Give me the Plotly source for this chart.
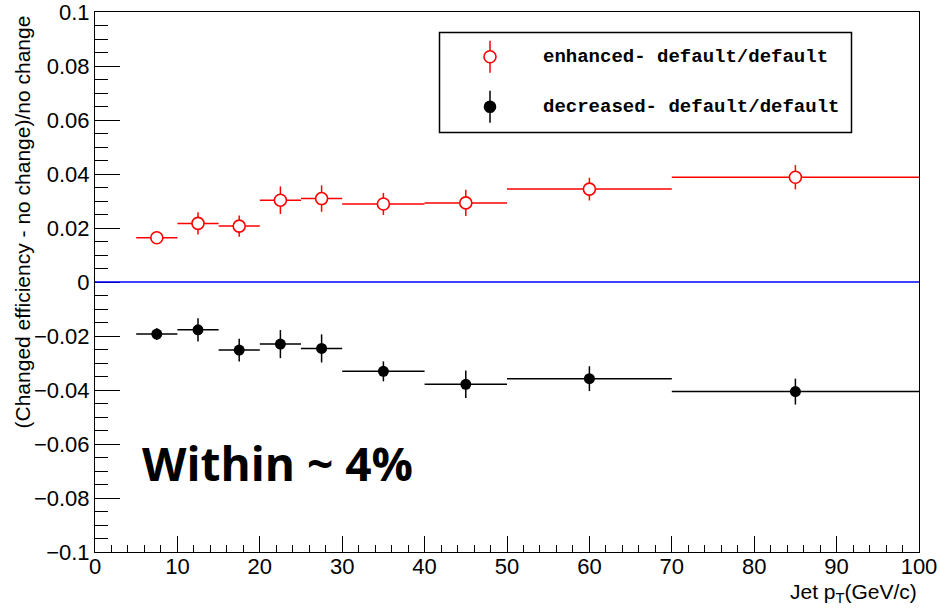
import plotly.graph_objects as go

# ---- data ----
bin_centers = [7.5, 12.5, 17.5, 22.5, 27.5, 35, 45, 60, 85]
bin_halfwidths = [2.5, 2.5, 2.5, 2.5, 2.5, 5, 5, 10, 15]

enhanced_vals = [0.0164, 0.0217, 0.0207, 0.0303, 0.0309, 0.0289, 0.0293, 0.0344, 0.0388]
enhanced_errs = [0.0023, 0.0041, 0.0039, 0.0051, 0.0049, 0.0041, 0.0049, 0.0042, 0.0045]

decreased_vals = [-0.0193, -0.0177, -0.0252, -0.0230, -0.0246, -0.0331, -0.0379, -0.0358, -0.0406]
decreased_errs = [0.0022, 0.0043, 0.0042, 0.0052, 0.0052, 0.0037, 0.0051, 0.0046, 0.0048]

zero_line_x = [0, 100]
zero_line_y = [0, 0]

legend_labels = ["enhanced- default/default", "decreased- default/default"]
y_title = "(Changed efficiency - no change)/no change"
x_title = "Jet p<sub>T</sub>(GeV/c)"
note_text = "Within ~ 4%"

RED = "rgb(255,0,0)"
BLACK = "rgb(0,0,0)"
BLUE = "rgb(0,0,255)"

fig = go.Figure()

fig.add_trace(go.Scatter(
    x=zero_line_x, y=zero_line_y, mode="lines",
    line=dict(color=BLUE, width=1.5), showlegend=False, hoverinfo="skip"))

fig.add_trace(go.Scatter(
    x=bin_centers, y=enhanced_vals, mode="markers", name=legend_labels[0],
    marker=dict(symbol="circle", size=12, color="white", line=dict(color=RED, width=1.6)),
    error_x=dict(type="data", array=bin_halfwidths, color=RED, thickness=1.5, width=0),
    error_y=dict(type="data", array=enhanced_errs, color=RED, thickness=1.5, width=0),
    showlegend=False))

fig.add_trace(go.Scatter(
    x=bin_centers, y=decreased_vals, mode="markers", name=legend_labels[1],
    marker=dict(symbol="circle", size=11, color=BLACK),
    error_x=dict(type="data", array=bin_halfwidths, color=BLACK, thickness=1.5, width=0),
    error_y=dict(type="data", array=decreased_errs, color=BLACK, thickness=1.5, width=0),
    showlegend=False))

# plot area geometry (pixels) for paper-coordinate decorations
L, R, T, B = 95, 21, 12, 63
W, H = 940 - L - R, 615 - T - B

def px(xp):
    return (xp - L) / W

def py(yp):
    return (615 - B - yp) / H

shapes = []
annotations = []

# legend box
shapes.append(dict(type="rect", xref="paper", yref="paper",
                   x0=px(439.5), x1=px(851.5), y0=py(132.5), y1=py(32.5),
                   line=dict(color=BLACK, width=1.5), fillcolor="white", layer="above"))
leg_x = 490
leg_rows = [(56.7, RED, True), (106.7, BLACK, False)]
for (yc, col, open_c), lab in zip(leg_rows, legend_labels):
    shapes.append(dict(type="line", xref="paper", yref="paper",
                       x0=px(leg_x), x1=px(leg_x), y0=py(yc - 16), y1=py(yc + 16),
                       line=dict(color=col, width=1.5), layer="above"))
    r = 6 if open_c else 5.5
    shapes.append(dict(type="circle", xref="paper", yref="paper",
                       x0=px(leg_x - r), x1=px(leg_x + r), y0=py(yc + r), y1=py(yc - r),
                       line=dict(color=col, width=1.6),
                       fillcolor="white" if open_c else col, layer="above"))
    annotations.append(dict(xref="paper", yref="paper", x=px(541), y=py(yc),
                            xanchor="left", yanchor="middle", showarrow=False,
                            text="<b>" + lab + "</b>",
                            font=dict(family="Liberation Mono", size=19, color=BLACK)))

annotations.append(dict(xref="paper", yref="paper", x=px(277), y=py(463),
                        xanchor="center", yanchor="middle", showarrow=False,
                        text="<b>" + note_text + "</b>",
                        font=dict(family="Open Sans", size=46, color=BLACK)))

annotations.append(dict(xref="paper", yref="paper", x=px(22), y=py(14),
                        xanchor="center", yanchor="top", textangle=-90, showarrow=False,
                        text=y_title,
                        font=dict(family="Liberation Sans", size=21, color=BLACK)))

annotations.append(dict(xref="paper", yref="paper", x=1.0, y=py(593),
                        xanchor="right", yanchor="middle", showarrow=False,
                        text=x_title,
                        font=dict(family="Liberation Sans", size=21, color=BLACK)))

fig.update_layout(
    width=940, height=615,
    margin=dict(l=L, r=R, t=T, b=B, autoexpand=False),
    paper_bgcolor="white", plot_bgcolor="white",
    font=dict(family="Liberation Sans", size=22, color=BLACK),
    shapes=shapes, annotations=annotations,
    showlegend=False,
)

fig.update_xaxes(
    range=[0, 100], tick0=0, dtick=10, ticks="inside", ticklen=16, tickwidth=1,
    tickcolor=BLACK, showline=True, linecolor=BLACK, linewidth=1, mirror=True,
    showgrid=False, zeroline=False, automargin=False, ticklabelstandoff=-5,
    ticklabeloverflow="allow",
    tickfont=dict(family="Liberation Sans", size=22),
    minor=dict(dtick=2, ticks="inside", ticklen=7, tickcolor=BLACK, showgrid=False),
)
fig.update_yaxes(
    range=[-0.1, 0.1], tick0=0, dtick=0.02, ticks="inside", ticklen=25, tickwidth=1,
    tickcolor=BLACK, showline=True, linecolor=BLACK, linewidth=1, mirror=True,
    showgrid=False, zeroline=False, automargin=False, ticklabeloverflow="allow",
    layer="below traces",
    tickfont=dict(family="Liberation Sans", size=22),
    minor=dict(dtick=0.005, ticks="inside", ticklen=13, tickcolor=BLACK, showgrid=False),
)

fig.write_html("out.html")
